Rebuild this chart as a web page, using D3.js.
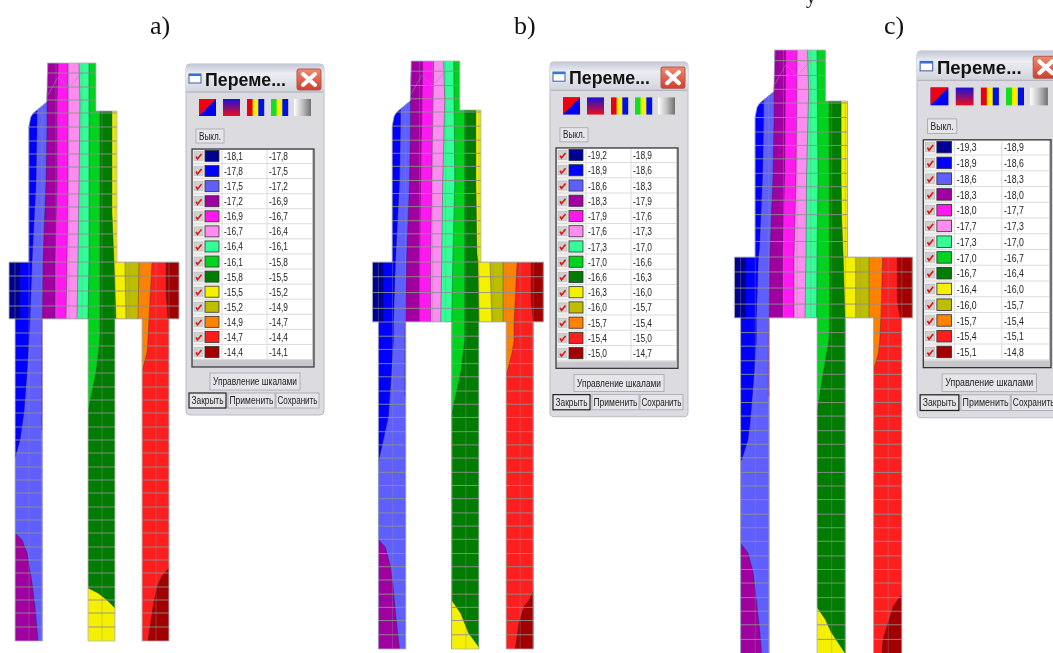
<!DOCTYPE html>
<html>
<head>
<meta charset="utf-8">
<script src="https://cdn.jsdelivr.net/npm/d3@7"></script>
<style>
html,body{margin:0;padding:0;background:#fff;overflow:hidden}
svg{display:block;filter:blur(.5px)}
text{font-family:"Liberation Sans",Arial,sans-serif}
</style>
</head>
<body>
<svg id="chart"></svg>
<script>
const w = 1053, h = 653;

// colour classes, coldest first
const bandColors = ["#000090","#0000ff","#5f5fff","#a000a0","#ff19f0","#ff8cf0","#32ff96","#00d21e","#007d00","#f5f000","#bebe00","#ff8200","#ff1e1e","#a00000"];

// legend columns of each window
const lowA = ["-18,1","-17,8","-17,5","-17,2","-16,9","-16,7","-16,4","-16,1","-15,8","-15,5","-15,2","-14,9","-14,7","-14,4"];
const highA = ["-17,8","-17,5","-17,2","-16,9","-16,7","-16,4","-16,1","-15,8","-15,5","-15,2","-14,9","-14,7","-14,4","-14,1"];
const lowB = ["-19,2","-18,9","-18,6","-18,3","-17,9","-17,6","-17,3","-17,0","-16,6","-16,3","-16,0","-15,7","-15,4","-15,0"];
const highB = ["-18,9","-18,6","-18,3","-17,9","-17,6","-17,3","-17,0","-16,6","-16,3","-16,0","-15,7","-15,4","-15,0","-14,7"];
const lowC = ["-19,3","-18,9","-18,6","-18,3","-18,0","-17,7","-17,3","-17,0","-16,7","-16,4","-16,0","-15,7","-15,4","-15,1"];
const highC = ["-18,9","-18,6","-18,3","-18,0","-17,7","-17,3","-17,0","-16,7","-16,4","-16,0","-15,7","-15,4","-15,1","-14,8"];

// outline of the section in model units (flange is 170 wide, section is 578 deep)
const outline = [[38.7,0],[87,0],[87,48],[108,48],[108,199],[170,199],[170,256],[160,256],[160,578],[133,578],[133,256],[106,256],[106,578],[79,578],[79,256],[33.3,256],[33.3,578],[6,578],[6,256],[0,256],[0,199],[19.7,199],[19.7,64],[21.7,54],[24.3,50],[37.7,39]];

// mesh lines in model units
const meshRows = [10,24,37,50,64,78,91,104,118,131,144,158,171,184,199,213,228,243,256,270,283,297,310,324,337,350,364,377,390,404,417,430,444,457,470,484,497,510,524,537,550,564];
const meshCols = [6,20,33,47,60,73,93,106,120,133,147,160];
const meshDiag = [[39,32,49,14],[49,14,60,24],[73,10,62,22]];

// isolines between neighbouring colours, [x, y] in model units, one list per panel
const isoA = [
  [[11,0],[11,256],[5,257],[5,578]],
  [[28,0],[28,64],[27,120],[23,199],[21,256],[20,277],[18,310],[15,349],[11,377],[6,395],[4,396],[4,578]],
  [[38,0],[38,64],[37,120],[34,199],[33,256],[32.5,277],[32.5,367],[36,368],[36,578]],
  [[49,0],[48,40],[48,120],[46,199],[46,256],[60,257],[60,578]],
  [[59,0],[59,120],[58,199],[57,256],[62,257],[62,578]],
  [[70,0],[71,40],[70,120],[69,199],[68,256],[64,257],[64,578]],
  [[80,0],[80,199],[79,256],[66,257],[66,578]],
  [[91,0],[91,277],[87,310],[79,349],[76,350],[76,578]],
  [[103,0],[103,150],[105,199],[107,256],[110,257],[110,578]],
  [[116,0],[116,199],[117,256],[118,257],[118,578]],
  [[130,0],[130,199],[129,256],[125,257],[125,578]],
  [[143,0],[143,199],[140,256],[139,277],[138,290],[133,309],[131,310],[131,578]],
  [[157,0],[157,228],[159,256],[162,257],[162,500],[160,505],[153,513],[148,524],[144,544],[139,578]]
];
const isoB = [
  [[11,0],[11,256],[5,257],[5,578]],
  [[28,0],[28,64],[27,120],[23,199],[21,256],[21,274],[19,306],[16,349],[11,372],[6,394],[4,395],[4,578]],
  [[38,0],[38,64],[37,120],[34,199],[33,256],[32.5,270],[32.5,329],[36,330],[36,578]],
  [[50,0],[48,120],[47,199],[47,256],[60,257],[60,578]],
  [[61,0],[59,120],[58,199],[58,256],[62,257],[62,578]],
  [[71,0],[72,40],[70,120],[69,199],[68,256],[64,257],[64,578]],
  [[81,0],[82,120],[80,199],[79,256],[66,257],[66,578]],
  [[92,0],[92,274],[88,306],[79,347],[76,348],[76,578]],
  [[103,0],[103,120],[104,190],[105,199],[106,256],[110,257],[110,578]],
  [[117,0],[117,199],[119,256],[119,257],[119,578]],
  [[130,0],[130,256],[125,257],[125,578]],
  [[144,0],[144,199],[141,256],[141,274],[139,286],[134,306],[131,307],[131,578]],
  [[158,0],[158,235],[160,256],[162,257],[162,515],[160,521],[156,530],[151,536],[146,552],[142,578]]
];
const isoC = [
  [[11,0],[11,256],[5,257],[5,578]],
  [[28,0],[28,64],[27,120],[24,190],[23,199],[21,256],[21,277],[19,309],[15,357],[13,373],[7,392],[4,393],[4,578]],
  [[38,0],[38,64],[37,120],[34,199],[33,256],[32.5,270],[32.5,331],[36,332],[36,578]],
  [[49,0],[48,120],[46,199],[46,256],[60,257],[60,578]],
  [[60,0],[59,120],[57,199],[57,256],[62,257],[62,578]],
  [[70,0],[71,40],[69,120],[68.5,199],[67.5,256],[64,257],[64,578]],
  [[79,0],[80,120],[79,199],[78.7,256],[66,257],[66,578]],
  [[90.5,0],[91,256],[90.5,277],[85,309],[78.7,349],[76,350],[76,578]],
  [[102,0],[102,120],[102.5,160],[104,199],[105.7,256],[110,257],[110,578]],
  [[116,0],[116,256],[118,257],[118,578]],
  [[128.7,0],[128.7,256],[125,257],[125,578]],
  [[141.7,0],[141.7,199],[140,256],[139,277],[137.6,290],[132,309],[130,310],[130,578]],
  [[155.7,0],[155.7,240],[158.4,256],[162,257],[162,515],[160,521],[152,532],[147,548],[142,564],[141,578]]
];

// cold and warm pockets at the foot of the legs
const purpleA = [[6,470],[13,477],[18,490],[23,520],[26,544],[29,578],[6,578]];
const yellowA = [[79,525],[89,530],[98,537],[106,545],[106,578],[79,578]];
const purpleB = [[6,470],[13,478],[18,497],[21,520],[24,552],[27,578],[6,578]];
const yellowB = [[79,530],[88,543],[96,563],[107,578],[79,578]];
const purpleC = [[6,472],[13,481],[18,500],[21,526],[24.5,558],[26,578],[6,578]];
const yellowC = [[79,533],[87,545],[93,558],[106,578],[79,578]];

const panels = [
  {id:"a", label:"a)", labelX:150, iso:isoA, purple:purpleA, yellow:yellowA, low:lowA, high:highA,
   xr:[9,179], yr:[63,111,262,319,641], win:[186,64,1,1]},
  {id:"b", label:"b)", labelX:514, iso:isoB, purple:purpleB, yellow:yellowB, low:lowB, high:highB,
   xr:[372.3,543.3], yr:[61,110,262,322,649], win:[550,62,1,1.011]},
  {id:"c", label:"c)", labelX:884, iso:isoC, purple:purpleC, yellow:yellowC, low:lowC, high:highC,
   xr:[734.3,912.3], yr:[50,101,257,318,654], win:[917,51,1.047,1.045]}
];

let svg = d3.select("#chart").attr("width",w).attr("height",h).attr("viewBox",[0,0,w,h]);

let defs = svg.append("defs");
let addGrad = (id,stops,horizontal) => {
  let g = defs.append("linearGradient").attr("id",id)
    .attr("x1",0).attr("y1",0).attr("x2",horizontal?1:0).attr("y2",horizontal?0:1);
  stops.forEach(s => g.append("stop").attr("offset",s[0]).attr("stop-color",s[1]));
};
addGrad("titleBar",[[0,"#c3c7d6"],[.35,"#eceef3"],[1,"#d2d4dd"]]);
addGrad("closeBtn",[[0,"#f08a70"],[1,"#cf3f30"]]);
addGrad("iconGrad",[[0,"#1a10d8"],[.5,"#80107c"],[1,"#f00c18"]]);
addGrad("iconGray",[[0,"#ffffff"],[.5,"#c0c0c0"],[1,"#707070"]],true);

// draw the coloured section for one panel
let drawSection = (p) => {
  let x = d3.scaleLinear().domain([0,170]).range(p.xr);
  let y = d3.scaleLinear().domain([0,48,199,256,578]).range(p.yr);
  let line = d3.line().x(d => x(d[0])).y(d => y(d[1]));

  defs.append("clipPath").attr("id","clip-"+p.id)
    .append("path").attr("d",line(outline)+"Z");

  let g = svg.append("g").attr("clip-path","url(#clip-"+p.id+")");

  // paint coldest colour everywhere, then each warmer colour right of its isoline
  g.append("path").attr("d",line(outline)+"Z").attr("fill",bandColors[0]);
  p.iso.forEach((pts,i) => {
    let first = pts[0], last = pts[pts.length-1];
    let area = [[first[0],-10]].concat(pts,[[last[0],600],[190,600],[190,-10]]);
    g.append("path").attr("d",line(area)+"Z").attr("fill",bandColors[i+1]);
  });
  g.append("path").attr("d",line(p.purple)+"Z").attr("fill",bandColors[3]);
  g.append("path").attr("d",line(p.yellow)+"Z").attr("fill",bandColors[9]);

  // thin dark isolines
  p.iso.concat([p.purple.slice(0,-1),p.yellow.slice(0,-2)]).forEach(pts => {
    g.append("path").attr("d",line(pts)).attr("fill","none")
      .attr("stroke","#1a1a30").attr("stroke-opacity",.5).attr("stroke-width",.7);
  });

  // mesh
  g.selectAll(".row").data(meshRows).enter().append("line")
    .attr("x1",x(-5)).attr("x2",x(175)).attr("y1",d => y(d)).attr("y2",d => y(d))
    .attr("stroke","#8f8f8f").attr("stroke-width",.9);
  g.selectAll(".col").data(meshCols).enter().append("line")
    .attr("x1",d => x(d)).attr("x2",d => x(d)).attr("y1",y(0)).attr("y2",y(578))
    .attr("stroke","#8f8f8f").attr("stroke-width",.7).attr("stroke-opacity",.55);
  g.selectAll(".diag").data(meshDiag).enter().append("line")
    .attr("x1",d => x(d[0])).attr("y1",d => y(d[1])).attr("x2",d => x(d[2])).attr("y2",d => y(d[3]))
    .attr("stroke","#8f8f8f").attr("stroke-width",.6);

  svg.append("path").attr("d",line(outline)+"Z").attr("fill","none")
    .attr("stroke","#b4b4be").attr("stroke-width",.8);
};

let button = (g,bx,by,bw,bh,label,tw,strong) => {
  g.append("rect").attr("x",bx).attr("y",by).attr("width",bw).attr("height",bh)
    .attr("fill","#e6e6ea").attr("stroke",strong?"#222":"#a4a4ac").attr("stroke-width",strong?1.2:.8);
  g.append("text").attr("x",bx+bw/2).attr("y",by+bh/2+3.5).attr("text-anchor","middle")
    .attr("font-size",10).attr("fill","#222")
    .attr("textLength",tw).attr("lengthAdjust","spacingAndGlyphs").text(label);
};

// draw the floating colour-scale window for one panel
let drawWindow = (p) => {
  let g = svg.append("g")
    .attr("transform","translate("+p.win[0]+","+p.win[1]+") scale("+p.win[2]+","+p.win[3]+")");

  g.append("rect").attr("width",138).attr("height",351).attr("rx",4)
    .attr("fill","#dbdbe0").attr("stroke","#b9bcc8");
  g.append("rect").attr("width",138).attr("height",28).attr("rx",4).attr("fill","url(#titleBar)");
  g.append("line").attr("x1",1).attr("x2",137).attr("y1",28).attr("y2",28).attr("stroke","#a8abb8");

  // title bar
  g.append("rect").attr("x",3).attr("y",10).attr("width",12).attr("height",9)
    .attr("fill","#fff").attr("stroke","#3a5fb0");
  g.append("rect").attr("x",3).attr("y",10).attr("width",12).attr("height",2).attr("fill","#3a6fd0");
  g.append("text").attr("x",19).attr("y",22).attr("font-size",18).attr("font-weight","bold")
    .attr("fill","#111").attr("textLength",81).attr("lengthAdjust","spacingAndGlyphs").text("Переме...");
  g.append("rect").attr("x",111).attr("y",5).attr("width",24).attr("height",21).attr("rx",2)
    .attr("fill","url(#closeBtn)").attr("stroke","#a85a50");
  g.append("path").attr("d","M117,10L129,21M129,10L117,21").attr("stroke","#fff")
    .attr("stroke-width",4).attr("stroke-linecap","round");

  // toolbar icons
  let iy = 35, is = 17;
  g.append("rect").attr("x",13).attr("y",iy).attr("width",is).attr("height",is).attr("fill","#0000f0");
  g.append("path").attr("d","M13,"+iy+"h"+is+"L13,"+(iy+is)+"Z").attr("fill","#f00010");
  g.append("rect").attr("x",37).attr("y",iy).attr("width",is).attr("height",is).attr("fill","url(#iconGrad)");
  [[61,["#e80010","#f8f000","#0010e0"]],[85,["#10e020","#f8f000","#0010e0"]]].forEach(ic => {
    ic[1].forEach((c,i) => {
      g.append("rect").attr("x",ic[0]+i*is/3).attr("y",iy).attr("width",is/3+.2).attr("height",is).attr("fill",c);
    });
  });
  g.append("rect").attr("x",108).attr("y",iy).attr("width",is).attr("height",is).attr("fill","url(#iconGray)");

  button(g,10,65,28,14,"Выкл.",22,false);

  // legend table
  g.append("rect").attr("x",6).attr("y",85).attr("width",122).attr("height",218)
    .attr("fill","#c8c8cc").attr("stroke","#333").attr("stroke-width",1.2);
  g.append("rect").attr("x",7).attr("y",86).attr("width",119).attr("height",210).attr("fill","#fff");
  g.append("rect").attr("x",7).attr("y",86).attr("width",26).attr("height",210).attr("fill","#f0f0f0");
  let rowY = d3.scaleLinear().domain([0,13]).range([92,288]);
  let rows = g.selectAll(".legendRow").data(bandColors).enter().append("g")
    .attr("transform",(d,i) => "translate(0,"+rowY(i)+")");
  rows.append("line").attr("x1",7).attr("x2",126).attr("y1",7.5).attr("y2",7.5).attr("stroke","#dcdcdc");
  rows.append("rect").attr("x",8).attr("y",-4.5).attr("width",9).attr("height",9).attr("fill","#d0d0d0").attr("stroke","#b0b0b0").attr("stroke-width",.5);
  rows.append("path").attr("d","M10,0.5L11.5,3L15.5,-2").attr("fill","none").attr("stroke","#d81010").attr("stroke-width",1.5);
  rows.append("rect").attr("x",19).attr("y",-5.5).attr("width",14).attr("height",11)
    .attr("fill",d => d).attr("stroke","#333").attr("stroke-width",.8);
  rows.append("text").attr("x",38).attr("y",4).attr("font-size",10.5).attr("fill","#222")
    .attr("textLength",19).attr("lengthAdjust","spacingAndGlyphs").text((d,i) => p.low[i]);
  rows.append("text").attr("x",83).attr("y",4).attr("font-size",10.5).attr("fill","#222")
    .attr("textLength",19).attr("lengthAdjust","spacingAndGlyphs").text((d,i) => p.high[i]);
  g.append("line").attr("x1",36).attr("x2",36).attr("y1",86).attr("y2",296).attr("stroke","#dcdcdc");
  g.append("line").attr("x1",81).attr("x2",81).attr("y1",86).attr("y2",296).attr("stroke","#dcdcdc");

  button(g,24,309,90,17,"Управление шкалами",84,false);
  button(g,3,329,37,15,"Закрыть",32,true);
  button(g,42,329,47,15,"Применить",44,false);
  button(g,90,329,43,15,"Сохранить",40,false);
};

panels.forEach(p => {
  drawSection(p);
  drawWindow(p);
  svg.append("text").attr("x",p.labelX).attr("y",34)
    .style("font-family","'Liberation Serif','Times New Roman',serif")
    .attr("font-size",26).attr("fill","#111").text(p.label);
});

// tail of the caption line that the page crop cuts at the top
svg.append("text").attr("x",806).attr("y",3)
  .style("font-family","'Liberation Serif','Times New Roman',serif")
  .attr("font-size",20).attr("fill","#111").text("у");
</script>
</body>
</html>
